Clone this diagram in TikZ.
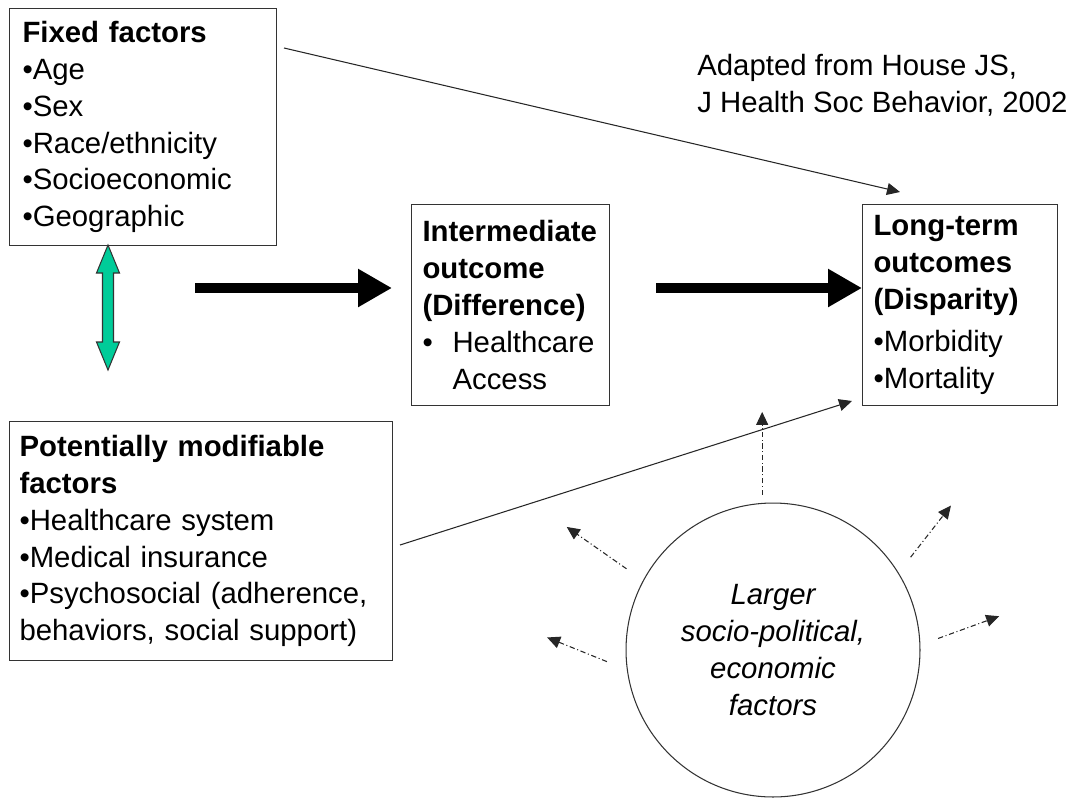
\documentclass[tikz,border=0pt]{standalone}
\usepackage{fontspec}
\setmainfont{Liberation Sans}
\usepackage{tikz}
\usetikzlibrary{arrows.meta}
\definecolor{mintgreen}{RGB}{0,204,153}

\begin{document}
\begin{tikzpicture}[x=0.02cm, y=-0.02cm, font=\fontsize{16.7}{21}\selectfont]
    \tikzstyle{box}=[draw=black!80, line width=0.6pt, anchor=north west, align=left, inner ysep=0pt]
    \tikzstyle{link}=[draw=black!85, line width=0.6pt, -{Triangle[length=0.26cm,width=0.24cm]}]
    \tikzstyle{fat}=[line width=0.2cm, -{Triangle[length=0.68cm,width=0.72cm]}]
    \tikzstyle{ray}=[link, dash pattern=on 3pt off 1.5pt on 0.6pt off 1.5pt]
    \useasboundingbox (0,0) rectangle (1077,797);
    \node[box, inner xsep=0.26cm, text width=4.82cm, minimum height=4.74cm] (fixed) at (9,8)
      {\textbf{Fixed factors}\\•Age\\•Sex\\•Race/ethnicity\\•Socioeconomic\\•Geographic};
    \node[box, inner xsep=0.22cm, text width=3.52cm, minimum height=4.02cm] (inter) at (411,204)
      {\textbf{Intermediate}\\\textbf{outcome}\\\textbf{(Difference)}\\
       \makebox[0.6cm][l]{•}Healthcare\\\hspace*{0.6cm}Access};
    \node[box, inner xsep=0.22cm, text width=3.46cm, minimum height=4.02cm] (long) at (862,204)
      {\textbf{Long-term}\\\textbf{outcomes}\\\textbf{(Disparity)}\\[0.12cm]•Morbidity\\•Mortality};
    \node[box, inner xsep=0.2cm, text width=7.26cm, minimum height=4.78cm] (modif) at (9,421)
      {\textbf{Potentially modifiable}\\\textbf{factors}\\•Healthcare system\\•Medical insurance\\
       •Psychosocial (adherence,\\behaviors, social support)};
    \node[draw=black!80, line width=0.6pt, circle, minimum size=5.88cm, align=center,
      font=\fontsize{16.7}{21}\selectfont\itshape] (circ) at (773,650)
      {Larger\\socio-political,\\economic\\factors};
    \node[anchor=west, align=left, inner sep=0pt] (cite) at (697,85)
      {Adapted from House JS,\\J Health Soc Behavior, 2002};

    \draw[draw=black!80, fill=mintgreen, line width=0.6pt]
      (108,245) -- (119.5,273) -- (113.5,273) -- (113.5,342) -- (119.5,342) -- (108,370)
      -- (96.5,342) -- (102.5,342) -- (102.5,273) -- (96.5,273) -- cycle;

    \coordinate (bigtail1) at (195,288);
    \coordinate (bigtail2) at (656,288);
    \draw[fat, shorten >=0.38cm] (bigtail1) -- (bigtail1 -| inter.west);
    \draw[fat] (bigtail2) -- (bigtail2 -| long.west);

    \coordinate (fixtail) at (284,48);
    \coordinate (longtip) at (900,192);
    \draw[link] (fixtail) -- (longtip);
    \coordinate (modtail) at (400,545);
    \coordinate (modtip) at (852,401);
    \draw[link] (modtail) -- (modtip);

    \foreach \a/\g/\d/\l in {94/0.16cm/90/1.66cm, 151/0.4cm/145/1.46cm, 34/0.37cm/52/1.31cm,
                             184/0.38cm/158/1.29cm, 4/0.36cm/20/1.3cm}
      \draw[ray] ([shift={(\a:\g)}]circ.\a) -- ++(\d:\l);
\end{tikzpicture}
\end{document}
